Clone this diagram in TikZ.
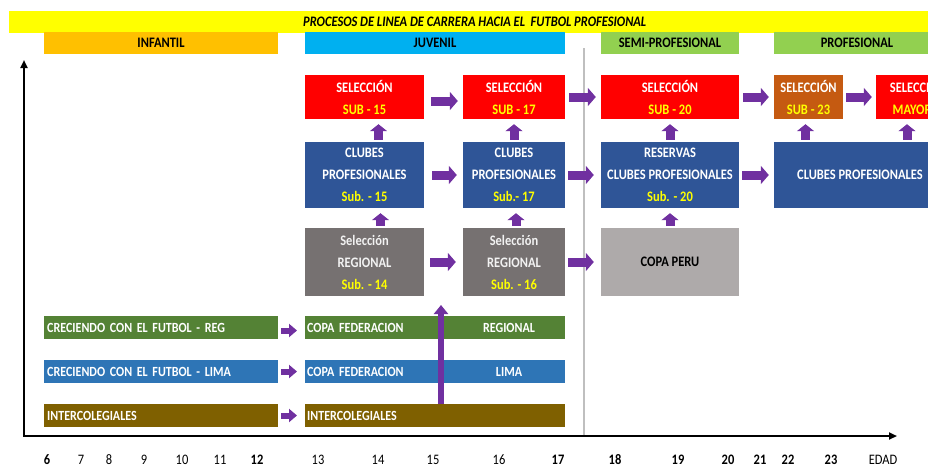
\documentclass[tikz,border=0pt]{standalone}
\usepackage{fontspec}
\setmainfont{Carlito}[FakeStretch=0.86]
\usetikzlibrary{arrows.meta}

\definecolor{titleyellow}{HTML}{FFFF00}
\definecolor{infantilorange}{HTML}{FFC000}
\definecolor{juvenilcyan}{HTML}{00B0F0}
\definecolor{profgreen}{HTML}{92D050}
\definecolor{selred}{HTML}{FF0000}
\definecolor{selbrown}{HTML}{C55A11}
\definecolor{clubblue}{HTML}{2F5597}
\definecolor{reggray}{HTML}{767171}
\definecolor{copagray}{HTML}{AEAAAA}
\definecolor{reggreen}{HTML}{548235}
\definecolor{limablue}{HTML}{2E75B6}
\definecolor{interbrown}{HTML}{7F6000}
\definecolor{arrowpurple}{HTML}{7030A0}
\definecolor{subyellow}{HTML}{FFFF00}
\definecolor{divgray}{HTML}{BFBFBF}

\tikzset{
  box/.style={inner sep=0pt, align=center, text=white,
    font=\fontsize{14.5}{22}\selectfont\bfseries},
  hdr/.style={inner sep=0pt, minimum height=22,
    font=\fontsize{14.5}{16}\selectfont\bfseries},
  band/.style={inner ysep=0pt, minimum height=23, text=white, align=left, anchor=west,
    font=\fontsize{14}{16}\selectfont\bfseries},
  bandlbl/.style={inner sep=0pt, text=white, font=\fontsize{14}{16}\selectfont\bfseries},
  rarr/.style={draw=arrowpurple, line width=9pt, -{Triangle[length=8pt,width=18pt]}},
  sarr/.style={draw=arrowpurple, line width=6pt, -{Triangle[length=8pt,width=13pt]},
    shorten <=3, shorten >=8},
  uarr/.style={draw=arrowpurple, line width=9pt, -{Triangle[length=7pt,width=17pt]},
    shorten <=2, shorten >=5},
  axis/.style={line width=2pt, {Triangle[length=8pt,width=7pt]}-{Triangle[length=8pt,width=7pt]}},
  agelbl/.style={inner sep=0pt, font=\fontsize{14.5}{16}\selectfont},
}

\begin{document}
\begin{tikzpicture}[x=1pt,y=-1pt]
  \useasboundingbox (0,0) rectangle (928,466);

  % title and stage headers
  \node[hdr, fill=titleyellow, minimum width=931, anchor=west] (title) at (9,22)
    {\itshape PROCESOS DE LINEA DE CARRERA HACIA EL~ FUTBOL PROFESIONAL};
  \node[hdr, fill=infantilorange, minimum width=234] (infantil) at (161,43) {INFANTIL};
  \node[hdr, fill=juvenilcyan, minimum width=260] (juvenil) at (435,43) {JUVENIL};
  \node[hdr, fill=profgreen, minimum width=138] (semi) at (670,43) {SEMI-PROFESIONAL};
  \node[hdr, fill=profgreen, minimum width=166] (prof) at (857,43) {PROFESIONAL};

  % divider between juvenil and semi-profesional
  \coordinate (divtop) at (584,48);
  \coordinate (divbot) at (584,436);
  \draw[divgray, line width=1.5pt] (divtop) -- (divbot);

  % axes
  \coordinate (o) at (24,436);
  \coordinate (ytip) at (24,60);
  \coordinate (xtip) at (897,436);
  \draw[axis] (ytip) -- (o) -- (xtip);

  % seleccion row
  \node[box, fill=selred, minimum width=119, minimum height=44] (s15) at (364.5,97)
    {SELECCIÓN\\\textcolor{subyellow}{SUB - 15}};
  \node[box, fill=selred, minimum width=102, minimum height=44] (s17) at (514,97)
    {SELECCIÓN\\\textcolor{subyellow}{SUB - 17}};
  \node[box, fill=selred, minimum width=138, minimum height=44] (s20) at (670,97)
    {SELECCIÓN\\\textcolor{subyellow}{SUB - 20}};
  \node[box, fill=selbrown, minimum width=69, minimum height=44] (s23) at (808.5,97)
    {SELECCIÓN\\\textcolor{subyellow}{SUB - 23}};
  \node[box, fill=selred, minimum width=84, minimum height=44] (smay) at (918,97)
    {SELECCIÓN\\\textcolor{subyellow}{MAYORES}};

  % clubes row
  \node[box, fill=clubblue, minimum width=119, minimum height=66] (c15) at (364.5,175)
    {CLUBES\\PROFESIONALES\\\textcolor{subyellow}{Sub. - 15}};
  \node[box, fill=clubblue, minimum width=102, minimum height=66] (c17) at (514,175)
    {CLUBES\\PROFESIONALES\\\textcolor{subyellow}{Sub.- 17}};
  \node[box, fill=clubblue, minimum width=138, minimum height=66] (res20) at (670,175)
    {RESERVAS\\CLUBES PROFESIONALES\\\textcolor{subyellow}{Sub. - 20}};
  \node[box, fill=clubblue, minimum width=172, minimum height=66] (cprof) at (860,175)
    {CLUBES PROFESIONALES};

  % regional row
  \node[box, fill=reggray, text=white!90!gray, minimum width=119, minimum height=68] (r14) at (364.5,262)
    {Selección\\REGIONAL\\\textcolor{subyellow}{Sub. - 14}};
  \node[box, fill=reggray, text=white!90!gray, minimum width=102, minimum height=68] (r16) at (514,262)
    {Selección\\REGIONAL\\\textcolor{subyellow}{Sub. - 16}};
  \node[box, fill=copagray, text=black, minimum width=138, minimum height=68] (copa) at (670,262)
    {COPA PERU};

  % base programmes
  \node[band, fill=reggreen, text width=228, inner xsep=3] (reg1) at (44,327.5)
    {CRECIENDO CON EL FUTBOL - REG};
  \node[band, fill=reggreen, text width=256, inner xsep=2] (reg2) at (305,327.5)
    {COPA FEDERACION};
  \node[bandlbl] (reglbl) at (509,327.5) {REGIONAL};
  \node[band, fill=limablue, text width=228, inner xsep=3] (lima1) at (44,371.5)
    {CRECIENDO CON EL FUTBOL - LIMA};
  \node[band, fill=limablue, text width=256, inner xsep=2] (lima2) at (305,371.5)
    {COPA FEDERACION};
  \node[bandlbl] (limalbl) at (509,371.5) {LIMA};
  \node[band, fill=interbrown, text width=228, inner xsep=3] (inter1) at (44,415.5)
    {INTERCOLEGIALES};
  \node[band, fill=interbrown, text width=256, inner xsep=2] (inter2) at (305,415.5)
    {INTERCOLEGIALES};

  % horizontal progressions
  \draw[rarr, shorten <=7, shorten >=5] ([yshift=-4]s15.east) -- ([yshift=-4]s17.west);
  \draw[rarr, shorten <=4, shorten >=5] (s17) -- (s20);
  \draw[rarr, shorten <=4, shorten >=5] (s20) -- (s23);
  \draw[rarr, shorten <=3, shorten >=4] (s23) -- (smay);
  \draw[rarr, shorten <=8, shorten >=6] (c15) -- (c17);
  \draw[rarr, shorten <=3, shorten >=7] (c17) -- (res20);
  \draw[rarr, shorten <=3, shorten >=5] (res20) -- (cprof);
  \draw[rarr, shorten <=6, shorten >=7] (r14) -- (r16);
  \draw[rarr, shorten <=3, shorten >=7] (r16) -- (copa);
  \draw[sarr] ([yshift=-3]reg1.east) -- ([yshift=-3]reg2.west);
  \draw[sarr] (lima1.east) -- (lima2.west);
  \draw[sarr] (inter1.east) -- (inter2.west);

  % vertical progressions
  \draw[uarr] ([xshift=14]c15.north) -- ([xshift=14]s15.south);
  \draw[uarr] ([xshift=16]r14.north) -- ([xshift=16]c15.south);
  \draw[uarr] (c17) -- (s17);
  \draw[uarr] ([xshift=2]r16.north) -- ([xshift=2]c17.south);
  \draw[uarr] (res20) -- (s20);
  \draw[uarr] (copa) -- (res20);
  \draw[uarr] ([xshift=-3]s23.south |- cprof.north) -- ([xshift=-3]s23.south);
  \draw[uarr] ([xshift=-11]smay.south |- cprof.north) -- ([xshift=-11]smay.south);

  % long arrow from intercolegiales
  \coordinate (jtip) at (441,305);
  \draw[draw=arrowpurple, line width=6pt, -{Triangle[length=9pt,width=14pt]}]
    (jtip |- inter2.north) -- (jtip);

  % ages
  \foreach \x/\t in {47/6, 257/12, 558/17, 615/18, 678/19, 728/20, 760/21, 788/22, 831/23}
    \node[agelbl, font=\fontsize{14.5}{16}\selectfont\bfseries] (age\t) at (\x,460) {\t};
  \foreach \x/\t in {81/7, 109/8, 144/9, 182/10, 220/11, 318/13, 378/14, 433/15, 499/16}
    \node[agelbl] (age\t) at (\x,460) {\t};
  \node[agelbl] (edad) at (883,460) {EDAD};
\end{tikzpicture}
\end{document}
